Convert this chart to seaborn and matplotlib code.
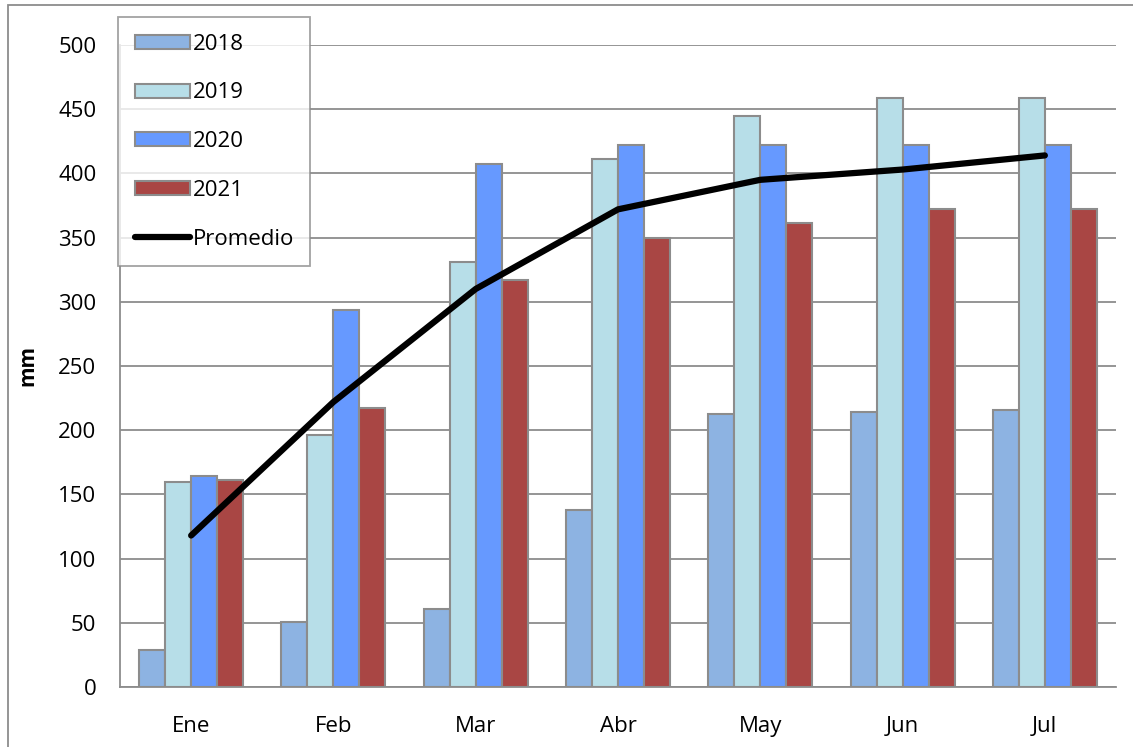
import numpy as np
import pandas as pd
import matplotlib
matplotlib.use("Agg")
import matplotlib.pyplot as plt
import seaborn as sns
from matplotlib.patches import Rectangle

months = ["Ene", "Feb", "Mar", "Abr", "May", "Jun", "Jul"]
v2018 = [29, 51, 61, 138, 213, 214, 216]
v2019 = [160, 196, 331, 411, 445, 459, 459]
v2020 = [164, 294, 407, 422, 422, 422, 422]
v2021 = [161, 217, 317, 350, 361, 372, 372]
promedio = [118, 222, 310, 372, 395, 403, 414]
years = ["2018", "2019", "2020", "2021"]
colors = ["#8DB3E2", "#B7DEE8", "#6699FF", "#A94644"]

rows = []
for y, vals in zip(years, [v2018, v2019, v2020, v2021]):
    for m, v in zip(months, vals):
        rows.append({"Mes": m, "Año": y, "mm": v})
df = pd.DataFrame(rows)

sns.set_style("white")
plt.rcParams["font.family"] = ["Open Sans", "DejaVu Sans"]
plt.rcParams["text.color"] = "black"
plt.rcParams["axes.labelcolor"] = "black"
plt.rcParams["xtick.labelcolor"] = "black"
plt.rcParams["ytick.labelcolor"] = "black"

fig = plt.figure(figsize=(11.33, 7.47), dpi=100)
ax = fig.add_axes([120/1133, 60/747, (1116-120)/1133, (687-45)/747])

sns.barplot(data=df, x="Mes", y="mm", hue="Año", palette=colors, order=months,
            hue_order=years, width=0.73, edgecolor="#8C8C8C", linewidth=1.5,
            saturation=1, ax=ax, errorbar=None, legend=True, zorder=3)
sns.lineplot(x=np.arange(len(months)), y=promedio, color="black", linewidth=4.5,
             ax=ax, label="Promedio", zorder=4, solid_capstyle="round")

ax.set_ylim(0, 500)
ax.set_xlim(-0.5, len(months) - 0.5)
ax.set_yticks(np.arange(0, 501, 50))
ax.yaxis.grid(True, color="#8C8C8C", linewidth=1.3, zorder=0)
ax.set_axisbelow(True)
ax.set_xlabel("")
ax.set_ylabel("mm", fontsize=15, fontweight="bold", labelpad=14, color="black")
for s in ["top", "right"]:
    ax.spines[s].set_visible(False)
for s in ["left", "bottom"]:
    ax.spines[s].set_color("#8C8C8C")
    ax.spines[s].set_linewidth(1.3)

ax.set_xticks(np.arange(len(months)))
ax.set_xticklabels(months)
ax.set_xticks(np.arange(-0.5, len(months)), minor=True)
ax.tick_params(axis="x", which="major", length=0, labelsize=16, pad=21, labelcolor="black")
ax.tick_params(axis="x", which="minor", length=6, color="#8C8C8C", width=1.3, direction="out")
ax.tick_params(axis="y", length=6, color="#8C8C8C", width=1.3, direction="out", labelsize=16,
               pad=11, labelcolor="black")

handles, labels = ax.get_legend_handles_labels()
leg = ax.legend(handles, labels, loc="upper left", bbox_to_anchor=(118/1133, 1 - 17/747),
                bbox_transform=fig.transFigure, fontsize=16, frameon=True, fancybox=False,
                edgecolor="#8C8C8C", labelspacing=1.25, handlelength=2.5, handleheight=0.6,
                handletextpad=0.1, borderpad=0.75, borderaxespad=0, labelcolor="black")
leg.get_frame().set_linewidth(1.3)
leg.set_zorder(10)

fig.patches.append(Rectangle((8/1133, -0.05), 1.2, 1 - 5/747 + 0.05, transform=fig.transFigure,
                             fill=False, edgecolor="#8C8C8C", linewidth=1.3))

fig.savefig("out.png", dpi=100)
